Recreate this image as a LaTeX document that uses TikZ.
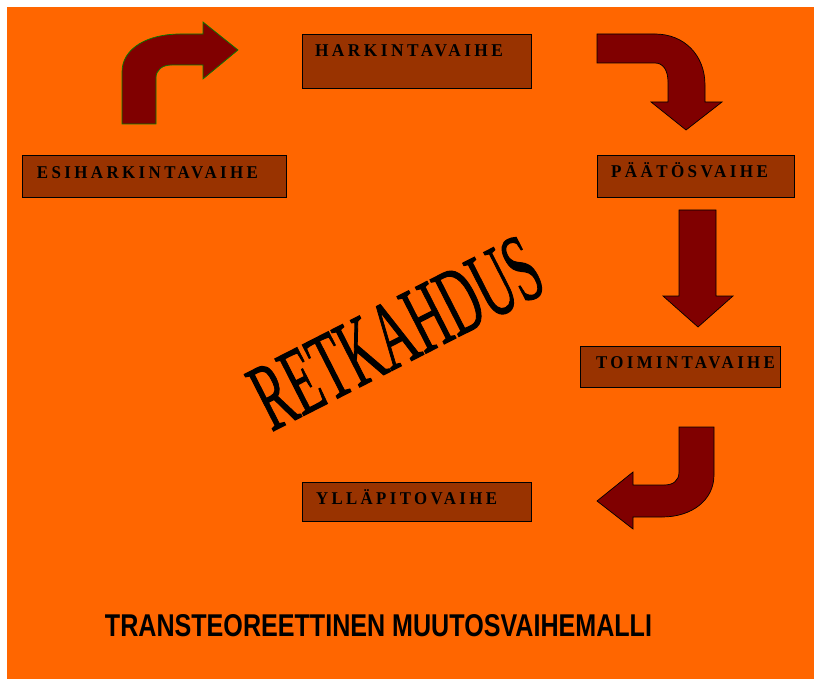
\documentclass[tikz,border=0pt]{standalone}
\usepackage{fontspec}
\usepackage{graphicx}
\setmainfont{Liberation Serif}
\newfontfamily\titlefont{Liberation Sans}
\newfontfamily\labelfont[LetterSpace=20]{Liberation Serif}
\newfontfamily\wordfont[FakeBold=1.3]{Liberation Serif}
\definecolor{bgorange}{HTML}{FF6600}
\definecolor{boxbrown}{HTML}{993300}
\definecolor{arrowred}{HTML}{800000}
\definecolor{edgegreen}{HTML}{008000}
\tikzset{
  stagebox/.style={draw=black, line width=0.9pt, fill=boxbrown, rectangle, inner sep=0pt, anchor=north west},
  stagelabel/.style={anchor=base, inner sep=0pt, font=\labelfont\bfseries\fontsize{18}{18}\selectfont, text=black},
  blockarrow/.style={fill=arrowred, draw=black, line width=0.7pt, line join=miter},
}
\newcommand{\stretchto}[2]{\resizebox{#1}{\height}{#2}}
\begin{document}
\begin{tikzpicture}[x=1pt, y=-1pt]
\useasboundingbox (0,0) rectangle (814,679);
\fill[white] (0,0) rectangle (814,679);
\fill[bgorange] (7,7) rectangle (814,679);

% boxes
\node[stagebox, minimum width=229pt, minimum height=54pt] (hark) at (302,34) {};
\node[stagebox, minimum width=264pt, minimum height=42pt] (esi) at (22,155) {};
\node[stagebox, minimum width=197pt, minimum height=42pt] (paat) at (597,155) {};
\node[stagebox, minimum width=200pt, minimum height=41pt] (toim) at (580,346) {};
\node[stagebox, minimum width=229pt, minimum height=39pt] (yll) at (302,482) {};

% labels
\node[stagelabel] (harkT) at (409,57) {\stretchto{188pt}{HARKINTAVAIHE}};
\node[stagelabel] (esiT) at (147.5,179) {\stretchto{221pt}{ESIHARKINTAVAIHE}};
\node[stagelabel] (paatT) at (689.5,178) {\stretchto{157pt}{PÄÄTÖSVAIHE}};
\node[stagelabel] (toimT) at (685.5,368) {\stretchto{179pt}{TOIMINTAVAIHE}};
\node[stagelabel] (yllT) at (406.5,504) {\stretchto{181pt}{YLLÄPITOVAIHE}};

% arrow 1: up then right
\filldraw[blockarrow, draw=edgegreen] (122,124) -- (122,72) .. controls (122,48) and (148,34) .. (180,34)
  -- (203,34) -- (203,22) -- (238,50) -- (203,79) -- (203,65) -- (172,65)
  .. controls (162,65) and (156,70) .. (156,78) -- (156,124) -- cycle;

% arrow 2: right then down
\filldraw[blockarrow] (597,34) -- (655,34) .. controls (684,34) and (705,55) .. (705,85)
  -- (705,102) -- (722,102) -- (686,130) -- (651,102) -- (668,102) -- (668,82)
  .. controls (668,70) and (663,63) .. (655,63) -- (597,63) -- cycle;

% arrow 3: straight down
\filldraw[blockarrow] (679,210) -- (716,210) -- (716,296) -- (733,296) -- (698,327)
  -- (663,296) -- (679,296) -- cycle;

% arrow 4: down then left
\filldraw[blockarrow] (679,427) -- (679,472) .. controls (679,481) and (673,485) .. (664,485)
  -- (633,485) -- (633,472) -- (597,501) -- (633,529) -- (633,517) -- (662,517)
  .. controls (692,517) and (714,500) .. (714,475) -- (714,427) -- cycle;

% warped word
\node[rotate=27, inner sep=0pt] (retk) at (396,333)
  {\scalebox{0.53}[1]{\wordfont\fontsize{97}{97}\selectfont RETKAHDUS}};

% title
\node[anchor=base, inner sep=0pt] (title) at (378.5,636)
  {\resizebox{547pt}{22pt}{\titlefont\bfseries TRANSTEOREETTINEN MUUTOSVAIHEMALLI}};
\end{tikzpicture}
\end{document}
